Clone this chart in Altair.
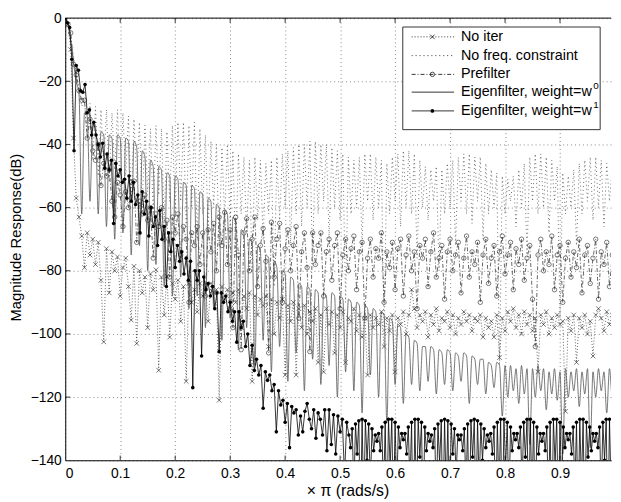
import altair as alt
import pandas as pd

STEP = 0.005        # frequency spacing of the first four series (x pi rad/s)
STEP_W1 = 0.004     # spacing of the weight=w^1 series below 0.516
ARC_START = 0.516   # where the finely sampled stop-band part of weight=w^1 starts
STEP_ARC = 0.003    # spacing of that part

no_iter_db = [
    0, -2, -10, -38, -57, -63, -69, -79, -68, -75, -70, -78, -71, -83, -102.5, -73, -87, -74, -80, -75.6,
    -88, -79, -76, -85, -95.6, -78.6, -103, -80, -87, -82, -98, -81, -86, -79.7, -111.5, -82, -94, -81.7, -101, -84,
    -89, -83, -96, -85, -115, -84, -90, -86, -93, -84, -88, -85, -96, -84, -87, -86, -121, -85, -89, -86,
    -92, -87, -90, -86, -98, -88, -92, -87, -115, -88, -94, -89, -91, -88, -104, -89, -100, -90, -95, -89,
    -113, -91, -96, -90, -113, -92, -98, -91, -100, -93, -96, -92, -109, -94, -112, -92, -97, -93, -106, -94,
    -98, -93, -109, -95, -96, -92, -99, -94, -101, -95, -113, -94, -98, -95, -97, -93, -104, -95, -99, -94,
    -112, -95, -97, -93, -100, -94, -86, -92, -98, -94, -96, -93, -101, -94, -97, -92, -99, -95, -96, -93,
    -98, -94, -100, -95, -97, -93, -96, -94, -99, -95, -96, -94, -101, -95, -98, -96, -101, -94, -107.5, -95,
    -99, -93, -96, -92, -98, -94, -100, -93, -97, -94, -99, -95, -112, -94, -97, -93, -100, -95, -98, -94,
    -97, -96, -124.5, -95, -99, -94, -109, -95, -98, -94, -100, -96, -107, -94, -92, -95, -99, -93, -97, -94,
    -96,
]

no_freq_db = [
    0, -2, -6, -12, -18, -22, -28, -26, -38, -27, -45, -28, -50, -29, -47, -29, -52, -30, -48, -29,
    -55, -30, -50, -31, -58, -32, -52, -33, -60, -34, -55, -35, -62, -34, -56, -35, -65, -36, -58, -34,
    -63, -33, -58, -33, -66, -34, -60, -33, -70, -35, -62, -37, -68, -39, -60, -40, -72, -41, -63, -40,
    -66, -42, -75, -43, -62, -44, -68, -45, -80, -44, -64, -45, -70, -46, -62, -45, -85, -44, -64, -43,
    -60, -42, -72, -41, -62, -40, -66, -40, -60, -39, -78, -39, -62, -40, -58, -40, -70, -41, -60, -42,
    -64, -43, -90, -44, -62, -45, -60, -44, -72, -43, -58, -43, -64, -44, -60, -45, -100, -46, -62, -44,
    -58, -43, -66, -42, -60, -42, -62, -43, -76, -45, -60, -47, -64, -48, -58, -47, -80, -48, -62, -46,
    -60, -45, -72, -44, -58, -43, -62, -43, -65, -44, -58, -44, -70, -46, -62, -48, -60, -49, -110, -50,
    -62, -51, -58, -50, -66, -48, -60, -46, -75, -44, -58, -43, -62, -43, -60, -44, -68, -45, -58, -47,
    -95, -49, -62, -50, -60, -48, -72, -46, -62, -45, -58, -44, -64, -44, -60, -45, -66, -46, -58, -47,
    -62,
]

prefilter_db = [
    0, -2, -4.7, -14.6, -18, -23, -26, -26, -38, -32, -42, -45, -40, -53, -46, -50, -48, -58, -63, -52,
    -56, -66, -55, -60, -52, -51.6, -71, -58, -62, -56, -64, -60, -76, -62, -66, -60, -70, -64, -82, -63,
    -68, -62, -75, -66, -70, -90, -68, -72, -66, -78, -68, -88, -67, -74, -65, -80, -63, -72, -61.5, -78,
    -67, -98, -63, -75, -105, -68, -63.5, -80, -70, -63, -85, -72, -66.6, -77, -106, -64.6, -82, -70, -65, -90,
    -73, -67, -80, -72, -66, -95, -74, -68, -79, -105.6, -68, -78, -72, -68, -88, -74, -70, -83, -72, -68,
    -92, -75, -70, -80, -73, -69, -86, -74, -71, -95, -76, -70, -82, -73, -76, -68, -90, -74, -79, -71,
    -86, -73, -70, -88, -75, -69, -80, -74, -92, -72, -76, -70, -85, -74, -68, -82, -76, -72, -89, -74,
    -70, -80, -75, -71, -87, -76, -69, -82, -74, -78, -71, -90, -75, -70, -84, -76, -72, -88, -74, -69,
    -81, -75, -71, -86, -73, -78, -70, -83, -76, -72, -89, -104, -75, -70, -80, -74, -78, -69, -86, -75,
    -72, -90, -76, -71, -82, -74, -79, -70, -87, -75, -72, -84, -76, -70, -89, -74, -78, -71, -85, -75,
    -73,
]

eig_w0_db = [
    0, -2, -7, -14, -20, -24, -62, -30, -31, -58, -33, -34, -62, -36, -37, -66, -37, -38, -70, -37,
    -38, -68, -38, -39, -75, -39, -41, -72, -42, -44, -80, -45, -47, -78, -47, -48, -85, -49, -50, -88,
    -50, -51, -82, -52, -53, -92, -53, -54, -88, -55, -56, -98, -57, -58, -92, -59, -60, -102, -61, -62,
    -95, -63, -65, -105, -67, -68, -98, -70, -71, -110, -72, -74, -102, -75, -76, -112, -77, -79, -104, -80,
    -81, -115, -82, -83, -106, -84, -85, -118, -85, -86, -108, -86, -87, -116, -87, -88, -110, -87, -88, -120,
    -88, -89, -112, -89, -90, -118, -90, -91, -125, -91, -92, -113, -92, -93, -120, -93, -94, -128, -95, -96,
    -116, -97, -98, -122, -100, -101, -116, -102, -103, -118, -104, -104, -115, -104, -105, -119, -105, -106, -116, -105,
    -106, -118, -106, -107, -115, -106, -107, -122, -107, -108, -116, -108, -108, -119, -109, -110, -117, -109, -110, -126,
    -110, -120, -110, -118, -111, -122, -110, -119, -111, -135, -111, -120, -110, -118, -111, -124, -112, -119, -111, -121,
    -112, -138, -111, -120, -112, -118, -111, -123, -112, -119, -111, -136, -112, -120, -111, -118, -112, -125, -111, -120,
    -112,
]

# weight = w^1, 0 .. 0.512 (step 0.004)
eig_w1_db = [
    0, -1.5, -3, -13, -42, -15, -16.5, -23, -23.5, -21, -30, -29, -37, -33, -37, -40, -44, -39.6, -47.5, -43,
    -48, -45, -65, -46, -50, -48, -52, -51, -57, -50, -58, -52, -59, -56, -68, -55, -62, -58, -69, -60,
    -66, -63, -72, -61, -70, -66, -85, -68, -74, -70, -79, -72, -77, -74, -81, -76, -83, -77, -117, -80,
    -83, -80, -107, -82, -86, -84, -88, -85, -92, -87, -105.6, -87, -90, -88, -93, -90, -96, -93, -102.6, -93,
    -98, -96, -104, -100, -110, -103.6, -111.6, -108, -113, -110, -123.5, -112, -114.7, -113, -118, -116, -131, -118, -122.5, -121,
    -128, -122, -136, -123, -125, -124, -132, -126, -131, -124.5, -122, -127, -130, -124, -133, -125, -127, -132, -124, -137,
    -124, -135, -125.6, -138, -126, -131, -127, -145, -128,
]

# weight = w^1, 0.516 .. 1.008 (step 0.003): scalloped stop band
eig_w1_arc_db = [
    -132, -136, -130, -150, -128.5, -138, -127.5, -162, -127, -155, -127.5, -140, -128.5, -148, -130, -137, -132, -134,
    -131.5, -137, -129.5, -152, -128, -160, -127, -142, -127, -158, -128, -150, -129.5, -136, -131.5, -133.5,
    -131.5, -138, -129.5, -148, -128, -165, -127, -155, -127, -139, -128, -160, -129.5, -137, -131.5, -134,
    -132, -136, -130, -155, -128.5, -141, -127.5, -160, -127, -150, -127.5, -163, -128.5, -138, -130, -145, -132, -133.5,
    -132, -137, -130, -150, -128.5, -162, -127.5, -139, -127, -158, -127.5, -148, -128.5, -140, -130, -136, -132, -134,
    -131.5, -138, -129.5, -160, -128, -150, -127, -165, -127, -142, -128, -155, -129.5, -137, -131.5, -133.5,
    -131.5, -136, -129.5, -148, -128, -139, -127, -162, -127, -152, -128, -160, -129.5, -138, -131.5, -134,
    -131.5, -137, -129.5, -155, -128, -165, -127, -141, -127, -158, -128, -150, -129.5, -136, -131.5, -133.5,
    -131.5, -138, -129.5, -150, -128, -160, -127, -148, -127, -163, -128, -139, -129.5, -137, -131.5, -134,
    -131.5, -136, -129.5, -152, -128, -140, -127, -165, -127, -150, -128, -158, -129.5, -138, -131.5,
]

x_ticks = [0, 0.1, 0.2, 0.3, 0.4, 0.5, 0.6, 0.7, 0.8, 0.9]
y_ticks = [-140, -120, -100, -80, -60, -40, -20, 0]
legend_labels = ["No iter", "No freq. constraint", "Prefilter",
                 "Eigenfilter, weight=w", "Eigenfilter, weight=w"]
legend_sups = ["", "", "", "0", "1"]

FONT = "Liberation Sans"
XPATH = "M-1,-1L1,1M-1,1L1,-1"


def frame(vals, step, start=0.0):
    return pd.DataFrame({"f": [start + i * step for i in range(len(vals))], "db": vals})


xs = alt.Scale(domain=[0, 0.9928], nice=False, zero=False)
ys = alt.Scale(domain=[-140, 0], nice=False, zero=False)

X = alt.X("f:Q", scale=xs, axis=alt.Axis(
    values=x_ticks, format=".1~f", title="× π (rads/s)",
    grid=True, ticks=False, labelPadding=6,
    titleX=286, titleY=36, titleBaseline="alphabetic", titleFontSize=16,
))
Y = alt.Y("db:Q", scale=ys, axis=alt.Axis(
    values=y_ticks, format="d", title="Magnitude Response(dB)",
    grid=True, ticks=False, labelPadding=4,
    titleX=-50, titleY=222, titleAlign="center", titleBaseline="middle",
    titleAngle=270, titleFontSize=15,
))

d_noiter = frame(no_iter_db, STEP)
d_noc = frame(no_freq_db, STEP)
d_pref = frame(prefilter_db, STEP)
d_w0 = frame(eig_w0_db, STEP)
d_w1 = pd.concat([frame(eig_w1_db, STEP_W1), frame(eig_w1_arc_db, STEP_ARC, ARC_START)],
                 ignore_index=True)

layers = []
layers.append(alt.Chart(d_noc).mark_line(color="#333", strokeWidth=0.7, strokeDash=[1, 3], clip=True)
              .encode(x=X, y=Y))
layers.append(alt.Chart(d_noiter).mark_line(color="#222", strokeWidth=0.7, strokeDash=[1, 2], clip=True)
              .encode(x=X, y=Y))
layers.append(alt.Chart(d_noiter).mark_point(shape=XPATH, size=22, filled=False, color="#222",
                                              strokeWidth=0.6, opacity=1, clip=True)
              .encode(x=X, y=Y))
layers.append(alt.Chart(d_pref).mark_line(color="#222", strokeWidth=0.7, strokeDash=[4, 2, 1, 2], clip=True)
              .encode(x=X, y=Y))
layers.append(alt.Chart(d_pref).mark_point(shape="circle", size=20, filled=False, color="#222",
                                            strokeWidth=0.6, opacity=1, clip=True)
              .encode(x=X, y=Y))
layers.append(alt.Chart(d_w0).mark_line(color="#555", strokeWidth=0.8, interpolate="monotone", clip=True)
              .encode(x=X, y=Y))
layers.append(alt.Chart(d_w1).mark_line(color="black", strokeWidth=0.8, clip=True)
              .encode(x=X, y=Y))
layers.append(alt.Chart(d_w1).mark_circle(size=13, color="black", opacity=1, clip=True)
              .encode(x=X, y=Y))

# frame: top border and inner ticks (MATLAB style)
layers.append(alt.Chart(pd.DataFrame({"db": [0]})).mark_rule(color="black", strokeWidth=1)
              .encode(y=Y))
xt = x_ticks[1:]
yt = y_ticks[1:-1]
layers.append(alt.Chart(pd.DataFrame({"f": xt, "db": [-140] * len(xt), "db2": [-138.5] * len(xt)}))
              .mark_rule(color="black", strokeWidth=0.8).encode(x=X, y=Y, y2="db2:Q"))
layers.append(alt.Chart(pd.DataFrame({"f": xt, "db": [0] * len(xt), "db2": [-1.5] * len(xt)}))
              .mark_rule(color="black", strokeWidth=0.8).encode(x=X, y=Y, y2="db2:Q"))
layers.append(alt.Chart(pd.DataFrame({"db": yt, "f": [0] * len(yt), "f2": [0.009] * len(yt)}))
              .mark_rule(color="black", strokeWidth=0.8).encode(y=Y, x=X, x2="f2:Q"))

# legend (drawn by hand to show line + marker styles)
one = pd.DataFrame({"a": [0]})
layers.append(alt.Chart(one).mark_rect(fill="white", stroke="#333", strokeWidth=1)
              .encode(x=alt.value(342), x2=alt.value(542), y=alt.value(9), y2=alt.value(113)))
rows = [19, 38, 57, 75, 94]
dashes = [[1, 2], [1, 3], [4, 2, 1, 2], None, None]
for k, ry in enumerate(rows):
    kw = dict(color="black", strokeWidth=0.8)
    if dashes[k] is not None:
        kw["strokeDash"] = dashes[k]
    layers.append(alt.Chart(one).mark_rule(**kw)
                  .encode(x=alt.value(351), x2=alt.value(394), y=alt.value(ry)))
    layers.append(alt.Chart(one).mark_text(align="left", baseline="middle", font=FONT,
                                           fontSize=14.5, color="black")
                  .encode(x=alt.value(401), y=alt.value(ry), text=alt.value(legend_labels[k])))
    if legend_sups[k]:
        layers.append(alt.Chart(one).mark_text(align="left", baseline="middle", font=FONT,
                                               fontSize=10, color="black")
                      .encode(x=alt.value(535), y=alt.value(ry - 6), text=alt.value(legend_sups[k])))
layers.append(alt.Chart(one).mark_point(shape=XPATH, size=22, filled=False, color="black",
                                         strokeWidth=0.7, opacity=1)
              .encode(x=alt.value(372), y=alt.value(rows[0])))
layers.append(alt.Chart(one).mark_point(shape="circle", size=20, filled=False, color="black",
                                         strokeWidth=0.7, opacity=1)
              .encode(x=alt.value(372), y=alt.value(rows[2])))
layers.append(alt.Chart(one).mark_circle(size=14, color="black", opacity=1)
              .encode(x=alt.value(372), y=alt.value(rows[4])))

chart = (
    alt.layer(*layers)
    .properties(width=553, height=448,
                autosize=alt.AutoSizeParams(type="none"),
                padding={"left": 58, "top": 7, "right": 2, "bottom": 37},
                background="white")
    .configure_view(stroke=None)
    .configure_axis(
        labelFont=FONT, labelFontSize=14, labelColor="black",
        titleFont=FONT, titleFontWeight="normal", titleColor="black",
        domainColor="black", domainWidth=1,
        gridColor="black", gridDash=[1, 3], gridWidth=0.6, gridOpacity=0.8,
    )
)

chart.save("out.html", embed_options={"renderer": "svg", "actions": False})
